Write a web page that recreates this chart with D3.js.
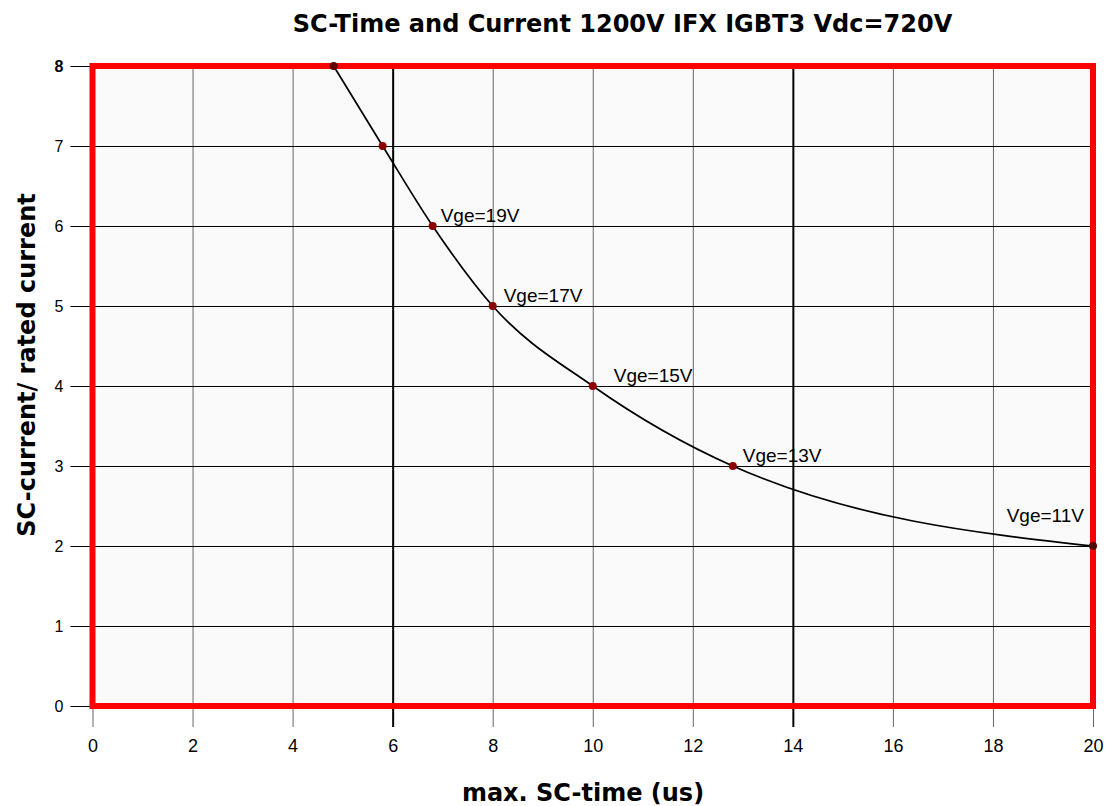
<!DOCTYPE html>
<html><head><meta charset="utf-8">
<script src="https://cdn.jsdelivr.net/npm/d3@7"></script>
<style>body{margin:0;background:#fff}svg{display:block}</style>
</head><body>
<svg id="c" width="1113" height="806"></svg>
<script>
const scTime = [4.82, 5.8, 6.8, 8.0, 10.0, 12.8, 20.0];
const scCurrent = [8, 7, 6, 5, 4, 3, 2];
const vgeLabels = ["", "", "Vge=19V", "Vge=17V", "Vge=15V", "Vge=13V", "Vge=11V"];
const xTicks = [0, 2, 4, 6, 8, 10, 12, 14, 16, 18, 20];
const yTicks = [0, 1, 2, 3, 4, 5, 6, 7, 8];
const boldXGrid = [6, 14];

const svg = d3.select("#c");
const m = {l: 92.5, r: 1093, t: 66, b: 706};
const x = d3.scaleLinear().domain([0, 20]).range([m.l, m.r]);
const y = d3.scaleLinear().domain([0, 8]).range([m.b, m.t]);

svg.append("rect").attr("x", m.l).attr("y", m.t).attr("width", m.r - m.l).attr("height", m.b - m.t).attr("fill", "#fafafa");

// vertical grid + ticks extending below
const xg = svg.append("g").attr("transform", `translate(0,${m.b})`)
  .call(d3.axisBottom(x).tickValues(xTicks).tickSizeOuter(0).tickFormat(""));
xg.select(".domain").remove();
xg.selectAll("line")
  .attr("stroke", d => boldXGrid.includes(d) ? "#000" : "#666")
  .attr("stroke-width", d => boldXGrid.includes(d) ? 2 : 1)
  .attr("y1", 21).attr("y2", -(m.b - m.t));

const xl = svg.append("g").attr("transform", `translate(0,${m.b})`)
  .call(d3.axisBottom(x).tickValues(xTicks).tickSize(0).tickPadding(33));
xl.select(".domain").remove();
xl.selectAll("text").attr("font-family", "'Liberation Sans',Arial,sans-serif").attr("font-size", 18).attr("fill", "#000");

// horizontal grid
const yg = svg.append("g").attr("transform", `translate(${m.l},0)`)
  .call(d3.axisLeft(y).tickValues(yTicks).tickSizeOuter(0).tickFormat(""));
yg.select(".domain").remove();
yg.selectAll("line").attr("stroke", "#000").attr("stroke-width", 1).attr("x1", -22).attr("x2", m.r - m.l);

const yl = svg.append("g").attr("transform", `translate(${m.l},0)`)
  .call(d3.axisLeft(y).tickValues(yTicks).tickSize(0).tickPadding(29));
yl.select(".domain").remove();
yl.selectAll("text").attr("font-family", "'Liberation Sans',Arial,sans-serif").attr("font-size", 16).attr("fill", "#000")
  .attr("font-weight", d => d === 8 ? "bold" : "normal");

// red frame
svg.append("rect").attr("x", m.l).attr("y", m.t).attr("width", m.r - m.l).attr("height", m.b - m.t)
  .attr("fill", "none").attr("stroke", "#ff0000").attr("stroke-width", 6);

const pts = scTime.map((t, i) => ({t, c: scCurrent[i], lab: vgeLabels[i]}));
svg.append("path").datum(pts)
  .attr("d", d3.line().x(d => x(d.t)).y(d => y(d.c)).curve(d3.curveMonotoneX))
  .attr("fill", "none").attr("stroke", "#000").attr("stroke-width", 1.7);

svg.selectAll("circle.p").data(pts).join("circle").attr("class", "p")
  .attr("cx", d => x(d.t)).attr("cy", d => y(d.c)).attr("r", 4)
  .attr("fill", (d, i) => i === 0 || i === pts.length - 1 ? "#5a0000" : "#8b0000");

// annotation placement (dx, dy, anchor) relative to each labelled point
const labelPlace = {
  "Vge=19V": [8, -4, "start"],
  "Vge=17V": [11, -4, "start"],
  "Vge=15V": [21, -4, "start"],
  "Vge=13V": [10, -4, "start"],
  "Vge=11V": [-9, -24, "end"]
};
svg.selectAll("text.lab").data(pts.filter(d => d.lab)).join("text").attr("class", "lab")
  .attr("x", d => x(d.t) + labelPlace[d.lab][0])
  .attr("y", d => y(d.c) + labelPlace[d.lab][1])
  .attr("text-anchor", d => labelPlace[d.lab][2])
  .attr("font-family", "'Liberation Sans',Arial,sans-serif").attr("font-size", 19)
  .text(d => d.lab);

svg.append("text").attr("x", 622.5).attr("y", 32).attr("text-anchor", "middle")
  .attr("font-family", "'DejaVu Sans',sans-serif").attr("font-weight", "bold").attr("font-size", 24)
  .text("SC-Time and Current 1200V IFX IGBT3 Vdc=720V");

svg.append("text").attr("x", 583).attr("y", 801).attr("text-anchor", "middle")
  .attr("font-family", "'DejaVu Sans',sans-serif").attr("font-weight", "bold").attr("font-size", 24)
  .text("max. SC-time (us)");

svg.append("text").attr("transform", "translate(35,365) rotate(-90)").attr("text-anchor", "middle")
  .attr("font-family", "'DejaVu Sans',sans-serif").attr("font-weight", "bold").attr("font-size", 24)
  .text("SC-current/ rated current");
</script>
</body></html>
